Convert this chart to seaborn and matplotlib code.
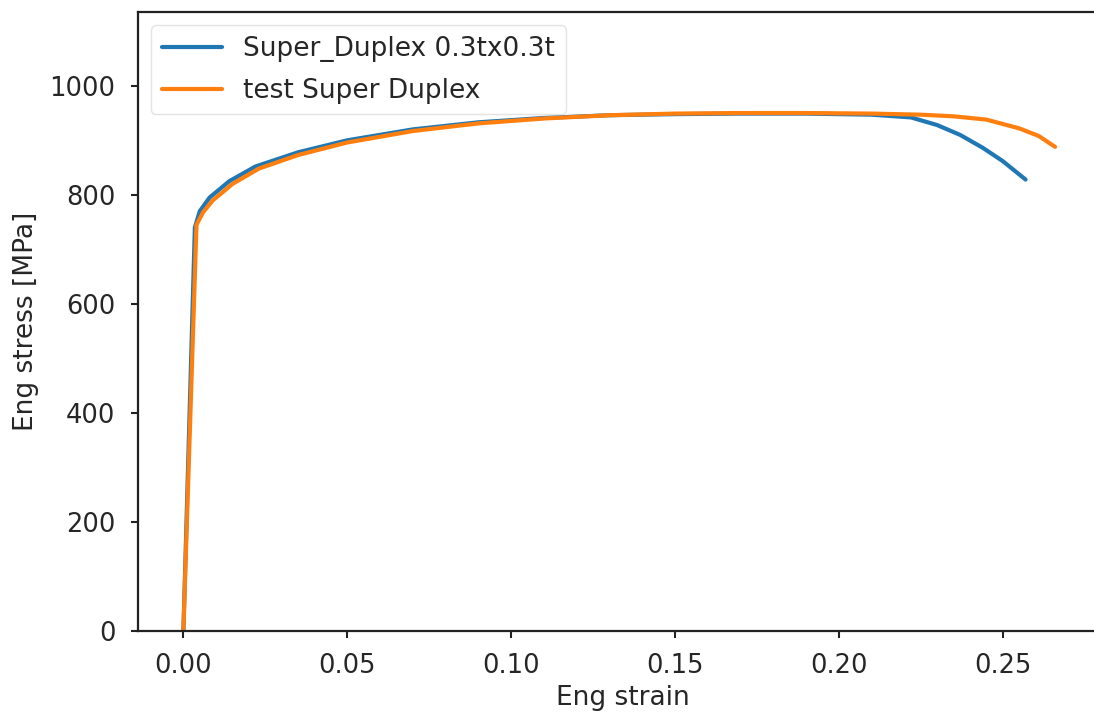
import numpy as np
import pandas as pd
import matplotlib
matplotlib.use("Agg")
import matplotlib.pyplot as plt
import seaborn as sns

# Data
blue_label = "Super_Duplex 0.3tx0.3t"
blue_strain = [0, 0.0035, 0.005, 0.008, 0.014, 0.022, 0.035, 0.05, 0.07, 0.09, 0.11,
               0.13, 0.15, 0.17, 0.19, 0.21, 0.222, 0.23, 0.237, 0.244, 0.25, 0.257]
blue_stress = [0, 740, 770, 795, 825, 852, 878, 900, 920, 933, 941,
               946, 948, 949, 949, 947, 942, 928, 910, 886, 862, 828]

orange_label = "test Super Duplex"
orange_strain = [0, 0.004, 0.006, 0.009, 0.015, 0.023, 0.035, 0.05, 0.07, 0.09, 0.11,
                 0.13, 0.15, 0.17, 0.19, 0.21, 0.225, 0.235, 0.245, 0.255, 0.261, 0.266]
orange_stress = [0, 745, 768, 790, 820, 848, 873, 896, 917, 931, 940,
                 946, 949, 950, 950, 949, 947, 944, 938, 922, 908, 888]

y_ticks = [0, 200, 400, 600, 800, 1000]
x_ticks = [0.00, 0.05, 0.10, 0.15, 0.20, 0.25]

sns.set_style("ticks")
plt.rcParams['font.family'] = ['DejaVu Sans']

df = pd.concat([
    pd.DataFrame({"strain": blue_strain, "stress": blue_stress, "series": blue_label}),
    pd.DataFrame({"strain": orange_strain, "stress": orange_stress, "series": orange_label}),
], ignore_index=True)

fig = plt.figure(figsize=(10.94, 7.17), dpi=100)
ax = fig.add_axes([0.126, 0.12, 0.886, 0.863])

sns.lineplot(data=df, x="strain", y="stress", hue="series", sort=False,
             palette=["#1f77b4", "#ff7f0e"], linewidth=3.0, ax=ax, estimator=None)

# axes width 0.886*1094 px at ~3277 px per unit strain
ax.set_xlim(-0.0139, -0.0139 + 0.886 * 1094 / 3277)
ax.set_ylim(0, 1135)
ax.set_xticks(x_ticks)
ax.set_xticklabels([f"{v:.2f}" for v in x_ticks])
ax.set_yticks(y_ticks)
ax.set_xlabel("Eng strain", fontsize=19, labelpad=4)
ax.set_ylabel("Eng stress [MPa]", fontsize=19, labelpad=8)
ax.tick_params(labelsize=18.5, length=5, width=1.5, pad=11, color="#222222")
for s in ax.spines.values():
    s.set_visible(True)
    s.set_linewidth(1.6)
    s.set_color("#222222")

leg = ax.legend(loc="upper left", fontsize=19, frameon=True, handlelength=2.3,
                borderaxespad=0.5, labelspacing=0.6)
leg.get_frame().set_edgecolor("#dddddd")

fig.savefig("out.png", dpi=100)
